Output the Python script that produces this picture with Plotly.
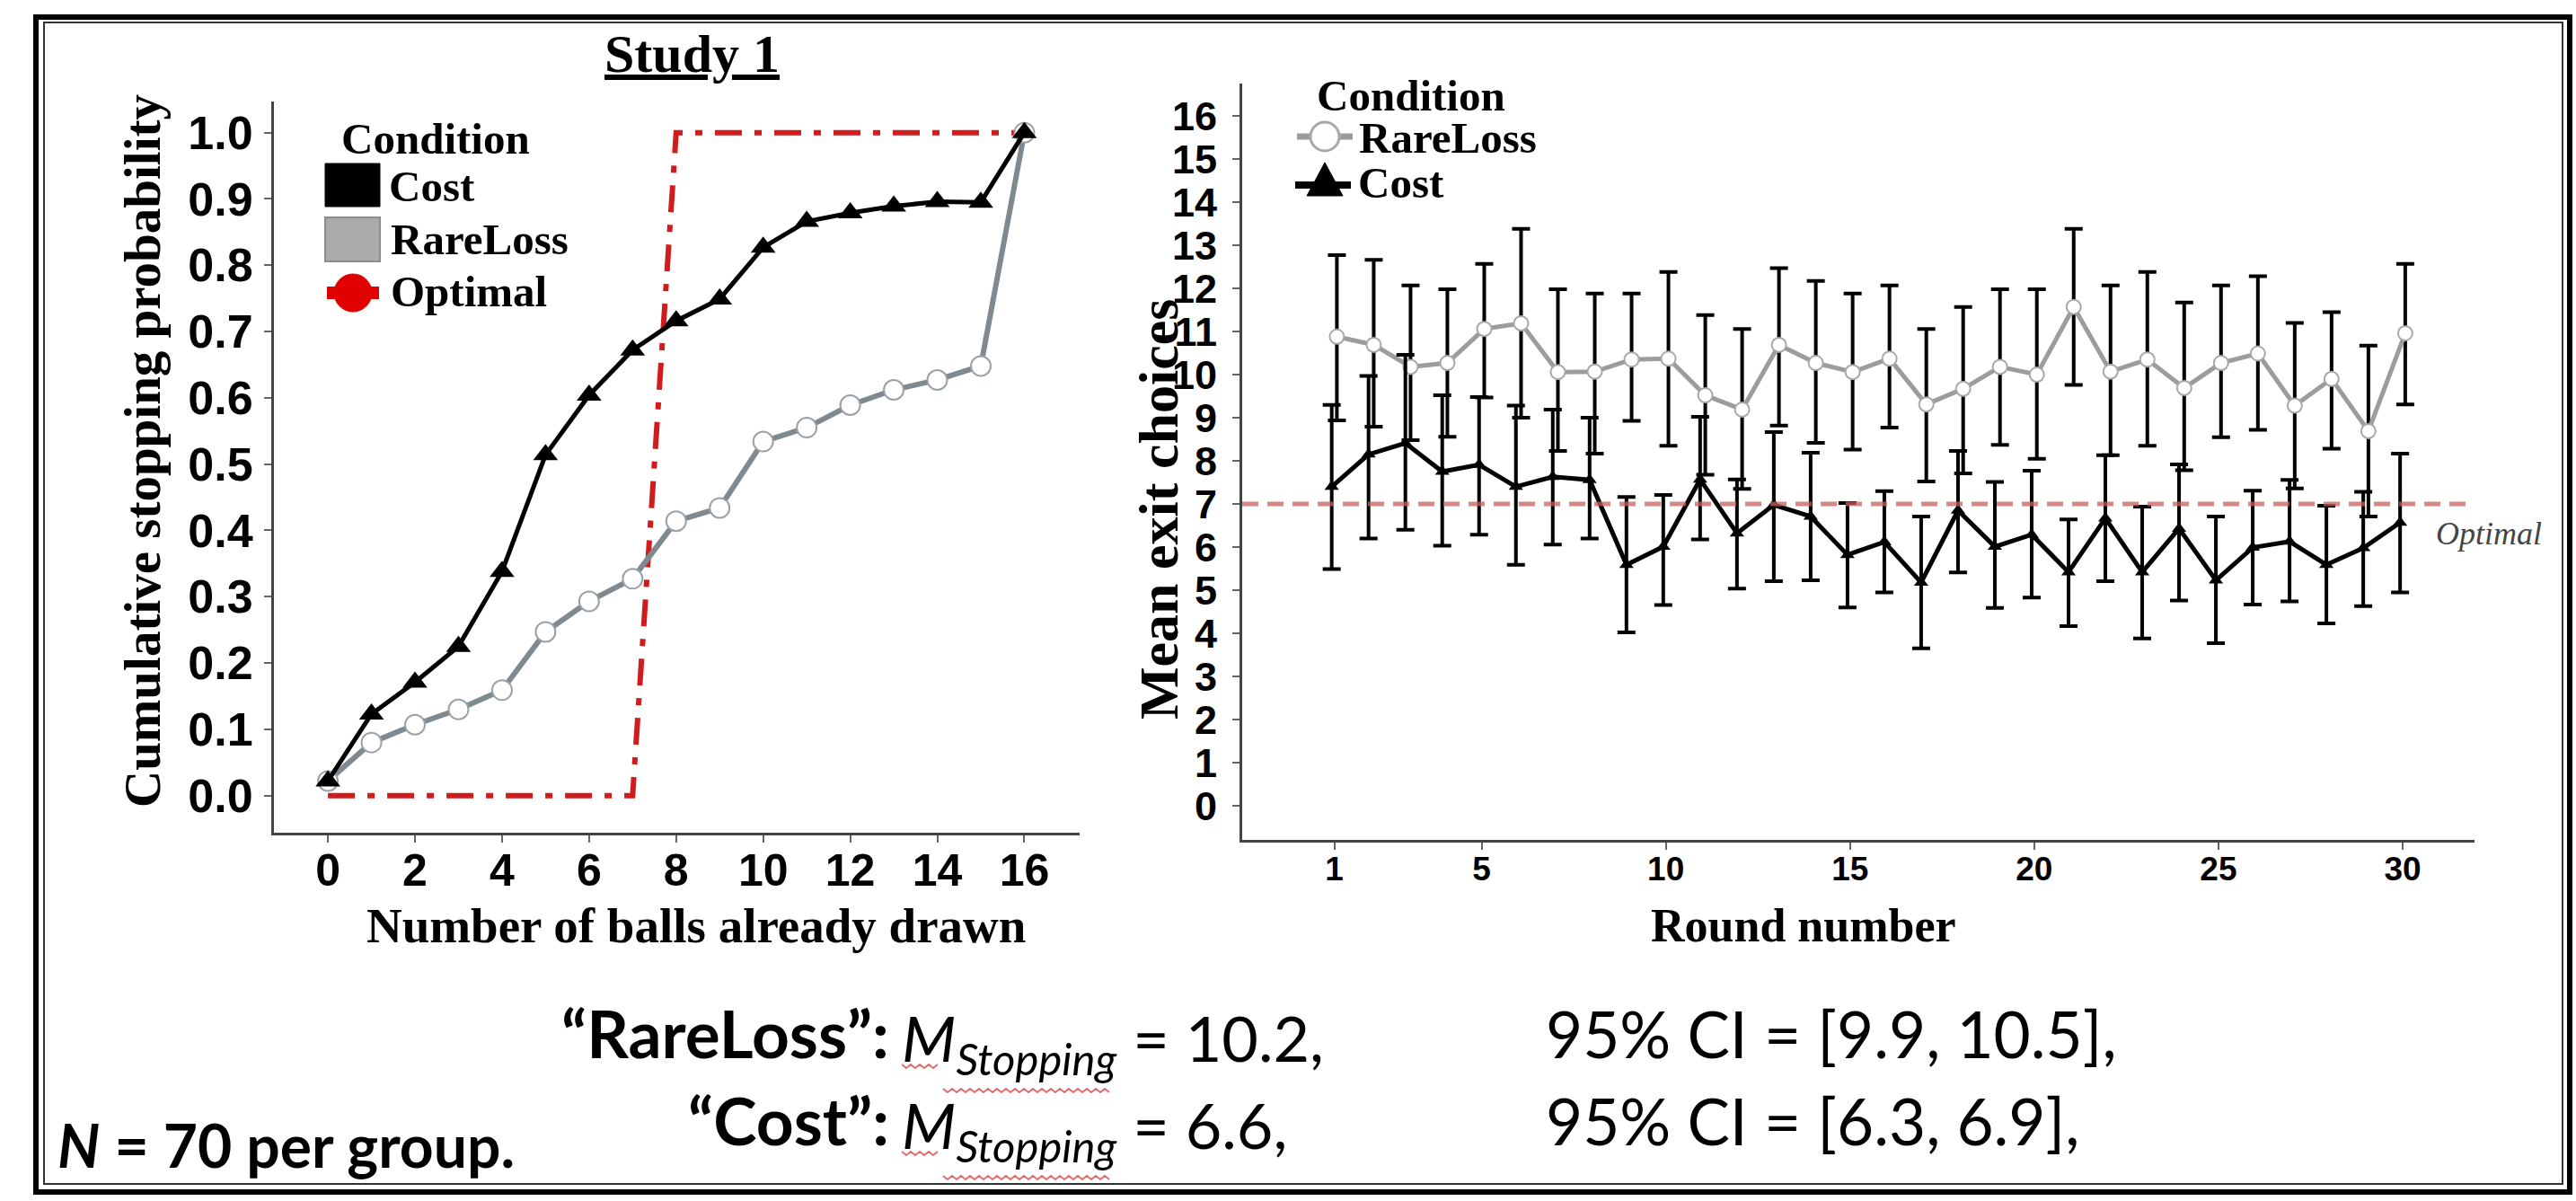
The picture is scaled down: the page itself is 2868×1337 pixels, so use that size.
import numpy as np
import plotly.graph_objects as go

W, H = 2868, 1337


def px(x):
    return x / W


def py(y):
    return 1 - y / H


# ---------------- data: left panel ----------------
balls = list(range(17))
cost_cum = [0.022, 0.123, 0.171, 0.225, 0.338, 0.514, 0.604, 0.672, 0.716, 0.749,
            0.827, 0.866, 0.879, 0.889, 0.896, 0.895, 1.0]
rare_cum = [0.022, 0.080, 0.107, 0.130, 0.159, 0.247, 0.293, 0.327, 0.414, 0.434,
            0.534, 0.555, 0.589, 0.612, 0.627, 0.648, 1.0]
optimal_cum = [0, 0, 0, 0, 0, 0, 0, 0, 1, 1, 1, 1, 1, 1, 1, 1, 1]
left_yticks = [0.0, 0.1, 0.2, 0.3, 0.4, 0.5, 0.6, 0.7, 0.8, 0.9, 1.0]
left_xticks = [0, 2, 4, 6, 8, 10, 12, 14, 16]

# ---------------- data: right panel ----------------
rounds = list(range(1, 31))
rare_mean = [10.88, 10.69, 10.18, 10.27, 11.06, 11.19, 10.06, 10.07, 10.35, 10.37,
             9.52, 9.19, 10.69, 10.27, 10.06, 10.37, 9.31, 9.67, 10.18, 10.00,
             11.57, 10.07, 10.35, 9.69, 10.27, 10.49, 9.28, 9.90, 8.69, 10.96]
rare_hi = [12.77, 12.66, 12.07, 11.98, 12.57, 13.38, 11.98, 11.88, 11.88, 12.38,
           11.38, 11.06, 12.47, 12.17, 11.88, 12.07, 11.06, 11.57, 11.98, 11.98,
           13.38, 12.07, 12.38, 11.67, 12.07, 12.28, 11.20, 11.45, 10.67, 12.57]
rare_lo = [8.94, 8.79, 8.48, 8.56, 9.47, 9.00, 8.23, 8.17, 8.93, 8.35,
           7.68, 7.35, 8.82, 8.42, 8.26, 8.77, 7.52, 7.71, 8.37, 8.05,
           9.76, 8.13, 8.35, 7.78, 8.55, 8.72, 7.36, 8.28, 6.71, 9.31]
cost_mean = [7.40, 8.15, 8.41, 7.75, 7.91, 7.40, 7.63, 7.56, 5.59, 6.01,
             7.57, 6.32, 6.98, 6.71, 5.82, 6.12, 5.18, 6.85, 6.01, 6.29,
             5.42, 6.67, 5.42, 6.43, 5.23, 5.99, 6.13, 5.59, 5.98, 6.57]
cost_hi = [9.30, 9.97, 10.46, 9.52, 9.48, 9.28, 9.19, 9.00, 7.16, 7.21,
           9.02, 7.57, 8.67, 8.19, 7.02, 7.30, 6.71, 8.23, 7.51, 7.77,
           6.64, 8.13, 6.94, 7.92, 6.71, 7.31, 7.56, 6.96, 7.28, 8.17]
cost_lo = [5.49, 6.20, 6.40, 6.03, 6.29, 5.59, 6.06, 6.20, 4.02, 4.66,
           6.18, 5.04, 5.21, 5.23, 4.60, 4.95, 3.65, 5.41, 4.59, 4.83,
           4.17, 5.21, 3.88, 4.76, 3.77, 4.67, 4.74, 4.23, 4.63, 4.95]
optimal_exit = 7
right_xticks = [1, 5, 10, 15, 20, 25, 30]
right_yticks = list(range(0, 17))
dodge = 0.07

SERIF = "Liberation Serif"
SANS = "Liberation Sans"
BODY = "Lato"

fig = go.Figure()

# ---- left panel traces ----
fig.add_trace(go.Scatter(
    x=balls, y=optimal_cum, mode="lines", xaxis="x", yaxis="y",
    line=dict(color="#d01c1c", width=6, dash="30px,14px,8px,14px"),
    showlegend=False, hoverinfo="skip"))
fig.add_trace(go.Scatter(
    x=balls, y=rare_cum, mode="lines+markers", xaxis="x", yaxis="y",
    line=dict(color="#7f8a90", width=6),
    marker=dict(symbol="circle", size=22, color="white",
                line=dict(color="#9aa2a8", width=2)),
    showlegend=False))
fig.add_trace(go.Scatter(
    x=balls, y=cost_cum, mode="lines+markers", xaxis="x", yaxis="y",
    line=dict(color="black", width=5),
    marker=dict(symbol="triangle-up", size=24, color="black"),
    showlegend=False))

# ---- right panel traces ----
rm = np.array(rare_mean)
cm = np.array(cost_mean)
fig.add_trace(go.Scatter(
    x=np.array(rounds) + dodge, y=rm, mode="lines+markers", xaxis="x2", yaxis="y2",
    line=dict(color="#9c9c9c", width=5),
    marker=dict(symbol="circle", size=16, color="white",
                line=dict(color="#a8a8a8", width=2)),
    error_y=dict(type="data", array=np.array(rare_hi) - rm,
                 arrayminus=rm - np.array(rare_lo),
                 color="black", thickness=4, width=10),
    showlegend=False))
fig.add_trace(go.Scatter(
    x=np.array(rounds) - dodge, y=cm, mode="lines+markers", xaxis="x2", yaxis="y2",
    line=dict(color="black", width=5),
    marker=dict(symbol="triangle-up", size=14, color="black"),
    error_y=dict(type="data", array=np.array(cost_hi) - cm,
                 arrayminus=cm - np.array(cost_lo),
                 color="black", thickness=4, width=10),
    showlegend=False))

axis_common = dict(showgrid=False, zeroline=False, showline=True,
                   linecolor="#444444", linewidth=3, ticks="outside",
                   ticklen=8, tickwidth=2, tickcolor="#666666", automargin=False)

fig.update_layout(
    width=W, height=H, margin=dict(l=0, r=0, t=0, b=0, autoexpand=False),
    paper_bgcolor="white", plot_bgcolor="white", showlegend=False,
    xaxis=dict(domain=[px(305), px(1202)], range=[-1.24, 17.27],
               tickvals=left_xticks, anchor="y",
               tickfont=dict(family=SANS, size=50, color="black", weight="bold"),
               ticklabelstandoff=-12, **axis_common),
    yaxis=dict(domain=[py(927), py(113)], range=[-0.056, 1.047],
               tickvals=left_yticks, tickformat=".1f", anchor="x",
               tickfont=dict(family=SANS, size=52, color="black", weight="bold"),
               ticklabelstandoff=2, **axis_common),
    xaxis2=dict(domain=[px(1383), px(2755)], range=[-1.5, 31.95],
                tickvals=right_xticks, anchor="y2",
                tickfont=dict(family=SANS, size=37, color="black", weight="bold"),
                ticklabelstandoff=-10, **axis_common),
    yaxis2=dict(domain=[py(935), py(93)], range=[-0.79, 16.75],
                tickvals=right_yticks, anchor="x2",
                tickfont=dict(family=SANS, size=45, color="black", weight="bold"),
                ticklabelstandoff=8, **axis_common),
)

# optimal reference line in right panel
fig.add_shape(type="line", xref="x2 domain", yref="y2", x0=0, x1=1,
              y0=optimal_exit, y1=optimal_exit,
              line=dict(color="rgba(200,95,95,0.75)", width=5, dash="18px,10px"))

shapes = []
# ---- frame ----
shapes.append(dict(type="rect", xref="paper", yref="paper",
                   x0=px(40), x1=px(2861), y0=py(1327), y1=py(19),
                   line=dict(color="black", width=6)))
shapes.append(dict(type="rect", xref="paper", yref="paper",
                   x0=px(49), x1=px(2853), y0=py(1318), y1=py(25),
                   line=dict(color="#333333", width=2)))

# ---- left legend glyphs ----
shapes.append(dict(type="rect", xref="paper", yref="paper",
                   x0=px(362), x1=px(423), y0=py(230), y1=py(182),
                   fillcolor="black", line=dict(color="black", width=1)))
shapes.append(dict(type="rect", xref="paper", yref="paper",
                   x0=px(362), x1=px(423), y0=py(291), y1=py(242),
                   fillcolor="#ababab", line=dict(color="#8c8c8c", width=2)))
shapes.append(dict(type="line", xref="paper", yref="paper",
                   x0=px(364), x1=px(422), y0=py(326), y1=py(326),
                   line=dict(color="#e00000", width=14)))
shapes.append(dict(type="circle", xref="paper", yref="paper",
                   x0=px(372), x1=px(414), y0=py(347), y1=py(305),
                   fillcolor="#e00000", line=dict(color="#e00000", width=1)))

# ---- right legend glyphs ----
shapes.append(dict(type="line", xref="paper", yref="paper",
                   x0=px(1444), x1=px(1506), y0=py(152), y1=py(152),
                   line=dict(color="#9c9c9c", width=7)))
shapes.append(dict(type="circle", xref="paper", yref="paper",
                   x0=px(1459), x1=px(1491), y0=py(168), y1=py(136),
                   fillcolor="white", line=dict(color="#a8a8a8", width=3)))
shapes.append(dict(type="line", xref="paper", yref="paper",
                   x0=px(1442), x1=px(1504), y0=py(206), y1=py(206),
                   line=dict(color="black", width=8)))
shapes.append(dict(type="path", xref="paper", yref="paper",
                   path=f"M {px(1455)},{py(218)} L {px(1495)},{py(218)} L {px(1475)},{py(181)} Z",
                   fillcolor="black", line=dict(color="black", width=1)))


# ---- spell-check style wavy underlines beneath "M" and "Stopping" ----
def squiggle(x0, x1, y, step=5, amp=2):
    pts = []
    xx = x0
    k = 0
    while xx <= x1:
        yy = y - amp if k % 2 == 0 else y + amp
        pts.append(f"{px(xx)},{py(yy)}")
        xx += step
        k += 1
    return "M " + " L ".join(pts)


for base in (0, 97):
    shapes.append(dict(type="path", xref="paper", yref="paper",
                       path=squiggle(1004, 1044, 1187 + base),
                       line=dict(color="rgba(215,60,60,0.75)", width=2)))
    shapes.append(dict(type="path", xref="paper", yref="paper",
                       path=squiggle(1050, 1238, 1214 + base),
                       line=dict(color="rgba(215,60,60,0.75)", width=2)))

for s in shapes:
    fig.add_shape(**s)


def ann(text, x, y, size, family=SERIF, xanchor="left", color="black",
        textangle=0, weight="normal", style="normal"):
    fig.add_annotation(text=text, x=px(x), y=py(y), xref="paper", yref="paper",
                       xanchor=xanchor, yanchor="middle", showarrow=False,
                       textangle=textangle,
                       font=dict(family=family, size=size, color=color,
                                 weight=weight, style=style))


# titles / axis titles
ann("<u>Study 1</u>", 770, 60, 60, weight="bold", xanchor="center")
ann("Cumulative stopping probability", 158, 502, 57, weight="bold",
    xanchor="center", textangle=-90)
ann("Number of balls already drawn", 775, 1030, 55, weight="bold", xanchor="center")
ann("Mean exit choices", 1290, 567, 62, weight="bold", xanchor="center", textangle=-90)
ann("Round number", 2008, 1030, 52, weight="bold", xanchor="center")
ann("Optimal", 2710, 594, 36, style="italic", color="#444444")

# left legend
ann("Condition", 378, 154, 49, weight="bold")
ann("Cost", 431, 207, 49, weight="bold")
ann("RareLoss", 433, 266, 49, weight="bold")
ann("Optimal", 433, 325, 49, weight="bold")

# right legend
ann("Condition", 1464, 106, 49, weight="bold")
ann("RareLoss", 1511, 153, 49, weight="bold")
ann("Cost", 1510, 204, 49, weight="bold")

# bottom statistics text
ann("<b>“RareLoss”:</b>", 992, 1150, 73, family=BODY, xanchor="right")
ann("<i>M</i><sub><i>Stopping</i></sub> = 10.2,", 1002, 1160, 70, family=BODY)
ann("95% CI = [9.9, 10.5],", 1719, 1150, 71, family=BODY)
ann("<b>“Cost”:</b>", 992, 1247, 73, family=BODY, xanchor="right")
ann("<i>M</i><sub><i>Stopping</i></sub> = 6.6,", 1002, 1257, 70, family=BODY)
ann("95% CI = [6.3, 6.9],", 1719, 1247, 71, family=BODY)
ann("<b><i>N</i> = 70 per group.</b>", 62, 1274, 66, family=BODY)

fig.write_html(
    "out.html",
    config={"displayModeBar": False},
    post_script="document.body.style.margin='0px';document.body.style.overflow='hidden';")
